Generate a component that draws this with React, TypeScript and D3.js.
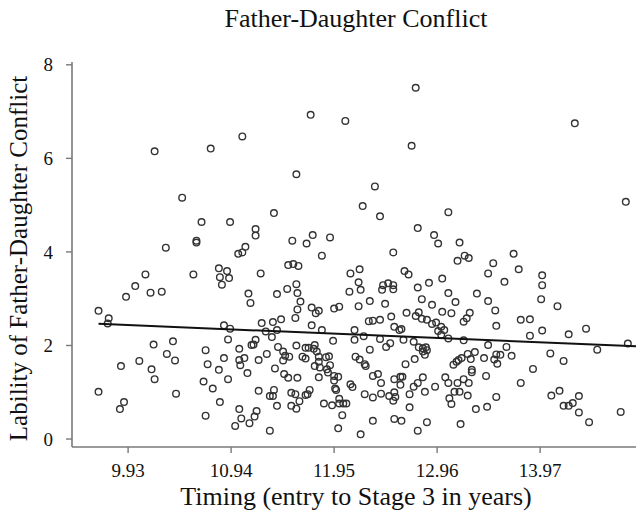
import React from "react";
import * as d3 from "d3";

const title = "Father-Daughter Conflict";
const xLabel = "Timing (entry to Stage 3 in years)";
const yLabel = "Lability of Father-Daughter Conflict";

const xTicks = [9.93, 10.94, 11.95, 12.96, 13.97];
const yTicks = [0, 2, 4, 6, 8];

const xDomain = [9.38, 14.91];
const yDomain = [-0.17, 8.06];

// fit line: lability = intercept + slope * timing
const regIntercept = 3.34;
const regSlope = -0.091;
const regRange = [9.64, 14.91];

const timing = [
  11.05, 10.19, 10.74, 10.46, 10.65, 10.93, 11.18, 11.18, 10.60, 10.60, 10.30, 11.08, 11.05, 11.01,
  12.75, 11.72, 12.06, 12.71, 11.58, 12.35, 11.36, 12.23, 12.40, 13.07, 12.77, 12.93, 12.97, 11.54, 11.68, 11.74, 11.91, 11.83, 12.53,
  14.31, 14.81, 13.18,
  10.10, 10.57, 10.82, 10.90, 10.83, 10.92, 10.85, 11.23, 10.00, 9.91, 10.15, 10.26, 11.11, 11.13, 9.64, 9.74, 9.73,
  10.87, 10.93, 11.24, 11.28, 10.18, 10.37, 10.91, 11.18, 11.14, 11.16, 11.02, 10.69, 10.31, 10.39, 10.04, 9.86, 10.16, 10.19,
  10.87, 11.02, 11.07, 11.03, 11.21, 11.29, 10.71, 10.82, 11.10, 10.67, 10.91, 10.76, 9.64, 10.40, 11.21,
  9.89, 9.85, 10.83, 10.69, 11.02, 11.04, 11.19, 11.17, 11.12, 10.98,
  11.50, 11.55, 11.60, 12.11, 12.20, 12.64, 12.68, 12.88, 13.01, 11.58, 12.19, 11.49, 11.39, 11.59, 12.10, 12.21,
  12.43, 12.48, 12.53, 12.42, 12.53, 12.77, 12.81, 11.62, 11.59, 11.57, 11.73, 11.80, 11.77, 11.95, 12.00,
  12.30, 12.45, 12.19, 12.66, 12.78, 12.91, 13.01, 11.43, 11.35, 11.73, 11.83, 12.29, 12.33, 12.40, 12.51,
  12.54, 12.61, 12.59, 12.75, 12.81, 12.86, 12.91, 12.95, 13.00, 13.03, 12.97, 13.00, 11.39, 12.15, 11.94,
  12.15, 12.24, 12.40, 12.50, 12.46, 12.63, 12.73, 12.78, 12.82, 12.85, 12.86, 12.84, 11.34, 11.40, 11.45,
  11.47, 11.51, 11.45, 11.58, 11.67, 11.70, 11.76, 11.75, 11.78, 11.80, 11.80, 11.87, 11.90, 11.64, 11.67,
  11.37, 11.46, 11.50, 11.59, 11.76, 11.81, 11.80, 11.88, 11.91, 11.89, 11.95, 11.99, 11.95, 12.16, 12.20,
  12.25, 12.26, 12.30, 12.33, 12.38, 12.41, 12.54, 12.60, 12.62, 12.60, 12.65, 12.74, 12.82, 12.82, 12.77,
  12.73, 12.69, 12.69, 12.84, 12.94, 11.96, 11.97, 12.11, 12.13, 11.36, 11.32, 11.35, 11.53, 11.57, 11.69,
  11.67, 11.71, 11.39, 11.53, 11.58, 11.61, 11.85, 11.93, 12.00, 12.00, 12.04, 12.07, 12.25, 12.33, 12.41,
  12.49, 12.54, 12.55, 12.53, 12.03, 12.33, 12.54, 12.61, 12.86, 11.32, 11.99, 12.21, 12.77,
  13.16, 13.23, 13.27, 13.51, 13.71, 13.46, 13.76, 13.99, 13.62, 13.99, 13.07, 13.35, 13.98, 13.14, 13.46,
  14.14, 13.53, 13.10, 13.28, 13.22, 13.25, 13.54, 13.78, 13.87, 13.99, 13.87, 14.25, 14.42, 13.07, 13.22,
  14.83, 13.46, 13.64, 14.53, 14.07, 14.20, 13.33, 13.26, 13.29, 13.20, 13.17, 13.15, 13.12, 13.42, 13.54,
  13.58, 13.52, 13.55, 13.69, 13.30, 13.30, 13.44, 13.90, 13.04, 13.07, 13.16, 13.22, 13.27, 13.13, 13.18,
  13.08, 13.10, 13.26, 13.54, 13.78, 14.08, 14.16, 14.20, 14.25, 14.29, 14.35, 13.34, 13.45, 14.35, 14.76,
  14.45, 13.19,
];

const lability = [
  6.47, 6.15, 6.21, 5.16, 4.64, 4.64, 4.49, 4.35, 4.24, 4.20, 4.09, 4.11, 3.99, 3.96,
  7.51, 6.93, 6.80, 6.27, 5.66, 5.40, 4.83, 4.98, 4.76, 4.85, 4.51, 4.36, 4.18, 4.24, 4.18, 4.36, 4.31, 3.92, 3.99,
  6.75, 5.07, 4.20,
  3.52, 3.52, 3.65, 3.59, 3.46, 3.44, 3.30, 3.54, 3.27, 3.04, 3.13, 3.15, 3.11, 2.91, 2.74, 2.58, 2.47,
  2.43, 2.36, 2.48, 2.30, 2.02, 2.09, 2.13, 2.12, 2.01, 2.02, 1.93, 1.90, 1.82, 1.68, 1.67, 1.56, 1.49, 1.28,
  1.73, 1.69, 1.73, 1.58, 1.69, 1.82, 1.60, 1.48, 1.41, 1.23, 1.28, 1.08, 1.01, 0.97, 1.03,
  0.79, 0.64, 0.79, 0.50, 0.64, 0.44, 0.60, 0.48, 0.34, 0.28,
  3.72, 3.74, 3.70, 3.54, 3.63, 3.59, 3.52, 3.34, 3.43, 3.31, 3.35, 3.21, 3.10, 3.12, 3.15, 3.19,
  3.29, 3.33, 3.29, 3.19, 3.20, 3.24, 2.99, 2.94, 2.77, 2.59, 2.81, 2.74, 2.69, 2.79, 2.83,
  2.95, 2.89, 2.84, 2.70, 2.71, 2.87, 2.72, 2.56, 2.50, 2.43, 2.33, 2.52, 2.53, 2.55, 2.62,
  2.40, 2.35, 2.33, 2.63, 2.57, 2.55, 2.46, 2.49, 2.40, 2.33, 2.31, 2.23, 2.33, 2.33, 2.10,
  2.12, 2.20, 2.14, 2.05, 1.97, 2.12, 2.08, 1.96, 1.94, 1.96, 1.90, 1.80, 2.18, 1.97, 1.87,
  1.78, 1.76, 1.68, 2.00, 1.95, 1.95, 2.01, 1.93, 1.87, 1.76, 1.65, 1.75, 1.77, 1.76, 1.72,
  1.51, 1.39, 1.31, 1.31, 1.56, 1.53, 1.32, 1.49, 1.58, 1.42, 1.35, 1.33, 1.25, 1.76, 1.70,
  1.60, 1.56, 1.91, 1.35, 1.39, 1.20, 1.28, 1.33, 1.33, 1.16, 1.60, 1.71, 1.87, 1.32, 1.20,
  1.12, 0.96, 0.68, 1.01, 1.12, 1.08, 1.05, 1.17, 1.11, 1.05, 0.92, 0.92, 0.99, 0.96, 0.96,
  0.94, 1.05, 0.71, 0.71, 0.65, 0.81, 0.76, 0.72, 0.86, 0.76, 0.76, 0.76, 0.96, 0.89, 0.97,
  0.92, 1.00, 0.90, 0.82, 0.51, 0.39, 0.43, 0.39, 0.36, 0.18, 0.23, 0.10, 0.18,
  3.81, 3.92, 3.87, 3.76, 3.96, 3.54, 3.63, 3.50, 3.36, 3.29, 3.12, 3.11, 2.99, 2.93, 2.95,
  2.84, 2.75, 2.69, 2.70, 2.51, 2.58, 2.42, 2.55, 2.56, 2.32, 2.21, 2.24, 2.36, 2.15, 2.11,
  2.04, 2.01, 1.97, 1.91, 1.83, 1.67, 1.86, 1.82, 1.71, 1.73, 1.69, 1.65, 1.59, 1.73, 1.81,
  1.80, 1.70, 1.61, 1.78, 1.48, 1.43, 1.35, 1.50, 1.32, 1.20, 1.20, 1.28, 1.20, 1.01, 1.01,
  0.87, 0.75, 0.93, 0.90, 1.20, 0.93, 1.03, 0.71, 0.71, 0.77, 0.92, 0.64, 0.69, 0.57, 0.58,
  0.36, 0.32,
];

const W = 641;
const H = 518;
const left = 72;
const right = 636;
const top = 62;
const bottom = 447;

const serif = "'Liberation Serif', 'Times New Roman', serif";

export default function App() {
  const x = d3.scaleLinear().domain(xDomain).range([left, right]);
  const y = d3.scaleLinear().domain(yDomain).range([bottom, top]);
  const points = timing.map((t, i) => ({ t, l: lability[i] }));
  const fitLine = d3
    .line<number>()
    .x((d) => x(d))
    .y((d) => y(regIntercept + regSlope * d));
  const axisColor = "#7a7a7a";

  return (
    <svg
      width={W}
      height={H}
      style={{ position: "absolute", left: 0, top: 0, background: "#fff" }}
    >
      <rect x={0} y={0} width={W} height={H} fill="#fff" />
      <text x={356} y={27} textAnchor="middle" fontFamily={serif} fontSize={26} fill="#111">
        {title}
      </text>

      {/* axes */}
      <line x1={left} x2={left} y1={top} y2={bottom} stroke={axisColor} strokeWidth={1.6} />
      <line x1={left} x2={right} y1={bottom} y2={bottom} stroke={axisColor} strokeWidth={1.6} />

      {yTicks.map((v) => (
        <g key={"y" + v}>
          <line x1={left - 6} x2={left} y1={y(v)} y2={y(v)} stroke={axisColor} strokeWidth={1.4} />
          <text
            x={left - 19}
            y={y(v)}
            dy="0.35em"
            textAnchor="end"
            fontFamily={serif}
            fontSize={19}
            fill="#111"
          >
            {v}
          </text>
        </g>
      ))}
      {xTicks.map((v) => (
        <g key={"x" + v}>
          <line x1={x(v)} x2={x(v)} y1={bottom} y2={bottom + 6} stroke={axisColor} strokeWidth={1.4} />
          <text x={x(v)} y={477} textAnchor="middle" fontFamily={serif} fontSize={19} fill="#111">
            {v.toFixed(2)}
          </text>
        </g>
      ))}

      <text x={356} y={505} textAnchor="middle" fontFamily={serif} fontSize={26} fill="#111">
        {xLabel}
      </text>
      <text
        transform={`translate(27, ${(top + bottom) / 2 + 4}) rotate(-90)`}
        textAnchor="middle"
        fontFamily={serif}
        fontSize={25}
        fill="#111"
      >
        {yLabel}
      </text>

      {points.map((p, i) => (
        <circle
          key={i}
          cx={x(p.t)}
          cy={y(p.l)}
          r={3.3}
          fill="none"
          stroke="#333"
          strokeWidth={1.4}
        />
      ))}

      <path d={fitLine(regRange) || ""} fill="none" stroke="#111" strokeWidth={2} />
    </svg>
  );
}
